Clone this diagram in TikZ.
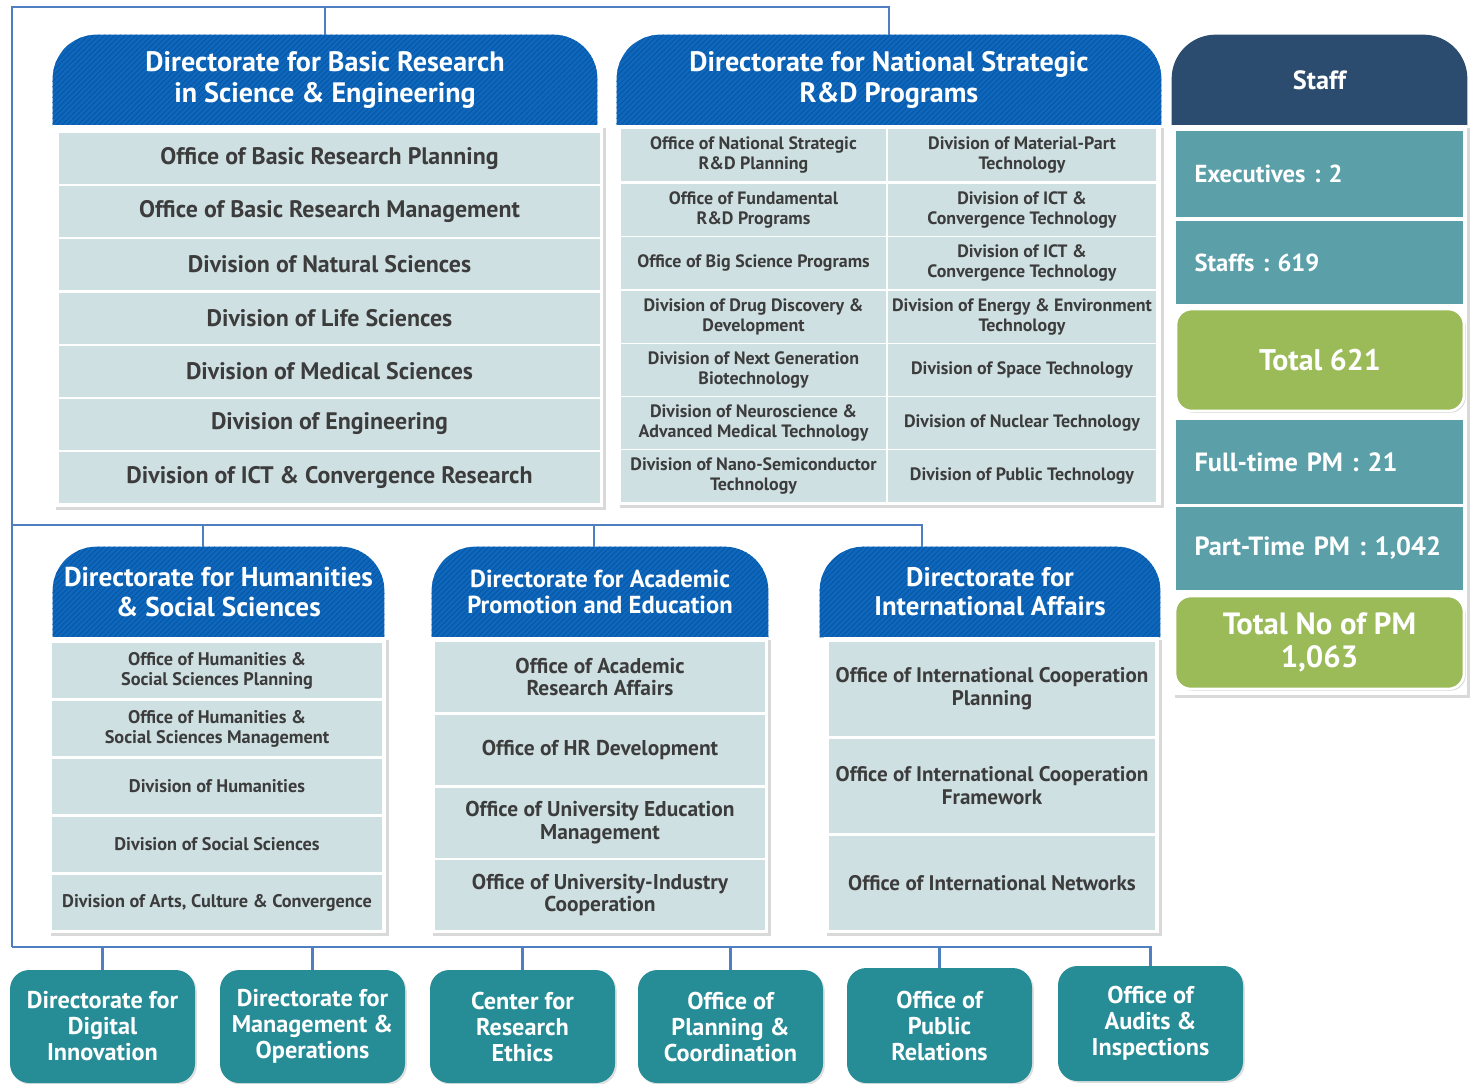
\documentclass[tikz,border=0pt]{standalone}
\usepackage{fontspec}
\setmainfont{PT Sans}
\usepackage{xcolor}
\usetikzlibrary{backgrounds,patterns,shadows}
\frenchspacing
\definecolor{busblue}{RGB}{79,127,192}
\definecolor{hdrblue}{RGB}{14,103,188}
\definecolor{hatchblue}{RGB}{6,84,158}
\definecolor{rowgray}{RGB}{207,224,226}
\definecolor{txtgray}{RGB}{60,60,60}
\definecolor{staffnavy}{RGB}{43,75,111}
\definecolor{staffteal}{RGB}{91,160,169}
\definecolor{staffgreen}{RGB}{155,187,89}
\definecolor{unitteal}{RGB}{38,140,150}
\tikzset{
Taille/.style 2 args={
 minimum width=#1*0.02cm,
 minimum height=#2*0.02cm
 },
Bus/.style={
 draw=busblue,
 line width=1.6pt
 },
Cadre/.style={
 fill=white,
 inner sep=0pt,
 drop shadow={shadow xshift=1.5pt, shadow yshift=-1.5pt, opacity=0.3}
 },
Titre/.style={
 inner sep=0pt,
 text=white,
 align=center,
 font=\bfseries\fontsize{16}{17.5}\selectfont
 },
FondBleu/.style={
 fill=hdrblue,
 postaction={pattern=north east lines, pattern color=hatchblue}
 },
Case/.style={
 fill=rowgray,
 inner sep=0pt,
 text=txtgray,
 align=center
 },
Effectif/.style={
 fill=staffteal,
 inner sep=0pt,
 text width=5cm,
 align=left,
 text=white,
 font=\bfseries\fontsize{14}{16}\selectfont
 },
Total/.style={
 fill=staffgreen,
 draw=white,
 line width=1.5pt,
 rounded corners=9pt,
 inner sep=0pt,
 align=center,
 text=white,
 drop shadow={shadow xshift=1pt, shadow yshift=-1pt, opacity=0.3},
 font=\bfseries\fontsize{17.5}{18.5}\selectfont
 },
Unite/.style={
 fill=unitteal,
 rounded corners=11pt,
 inner sep=0pt,
 align=center,
 text=white,
 drop shadow={shadow xshift=1pt, shadow yshift=-1pt, opacity=0.25},
 font=\bfseries\fontsize{13.8}{14.8}\selectfont
 }
}
\newcommand{\Onglet}[2]{\fill[#2] (#1.south west) [rounded corners=25pt] -- (#1.north west) -- (#1.north east) [sharp corners] -- (#1.south east) -- cycle;}

\begin{document}
\begin{tikzpicture}[x=0.02cm,y=-0.02cm]
\useasboundingbox (0,0) rectangle (1470,1083);

% Basic research
\node[Cadre, Taille={550}{382}] (cBR) at (328,316) {};
\node[Titre, Taille={544}{90}] (hBR) at (325,80) {Directorate for Basic Research\\in Science \& Engineering};
\begin{scope}[font=\bfseries\fontsize{13.6}{15}\selectfont]
\node[Case, Taille={541}{51}] (br1) at (329.5,158) {Office of Basic Research Planning};
\node[Case, Taille={541}{51}] (br2) at (329.5,211) {Office of Basic Research Management};
\node[Case, Taille={541}{51}] (br3) at (329.5,264) {Division of Natural Sciences};
\node[Case, Taille={541}{51}] (br4) at (329.5,318) {Division of Life Sciences};
\node[Case, Taille={541}{51}] (br5) at (329.5,371) {Division of Medical Sciences};
\node[Case, Taille={541}{51}] (br6) at (329.5,424) {Division of Engineering};
\node[Case, Taille={541}{51}] (br7) at (329.5,477) {Division of ICT \& Convergence Research};
\end{scope}

% National strategic
\node[Cadre, Taille={544}{380}] (cNS) at (889,315) {};
\node[Titre, Taille={544}{90}] (hNS) at (889,80) {Directorate for National Strategic\\R\&D Programs};
\begin{scope}[font=\bfseries\fontsize{10.2}{11}\selectfont]
\node[Case, Taille={265}{52}] (ns1) at (753.5,155) {Office of National Strategic\\R\&D Planning};
\node[Case, Taille={265}{52}] (ns2) at (753.5,210) {Office of Fundamental\\R\&D Programs};
\node[Case, Taille={265}{52}] (ns3) at (753.5,263) {Office of Big Science Programs};
\node[Case, Taille={265}{52}] (ns4) at (753.5,317) {Division of Drug Discovery \&\\Development};
\node[Case, Taille={265}{52}] (ns5) at (753.5,370) {Division of Next Generation\\Biotechnology};
\node[Case, Taille={265}{52}] (ns6) at (753.5,423) {Division of Neuroscience \&\\Advanced Medical Technology};
\node[Case, Taille={265}{52}] (ns7) at (753.5,476) {Division of Nano-Semiconductor\\Technology};
\node[Case, Taille={268}{52}] (ns8) at (1022,155) {Division of Material-Part\\Technology};
\node[Case, Taille={268}{52}] (ns9) at (1022,210) {Division of ICT \&\\Convergence Technology};
\node[Case, Taille={268}{52}] (ns10) at (1022,263) {Division of ICT \&\\Convergence Technology};
\node[Case, Taille={268}{52}] (ns11) at (1022,317) {Division of Energy \& Environment\\Technology};
\node[Case, Taille={268}{52}] (ns12) at (1022,370) {Division of Space Technology};
\node[Case, Taille={268}{52}] (ns13) at (1022,423) {Division of Nuclear Technology};
\node[Case, Taille={268}{52}] (ns14) at (1022,476) {Division of Public Technology};
\end{scope}

% Staff
\node[Cadre, Taille={295}{570}] (cST) at (1319.5,410) {};
\node[Titre, Taille={295}{90}, font=\bfseries\fontsize{15}{17}\selectfont] (hST) at (1319.5,80) {Staff};
\node[Effectif, Taille={287}{86}] (st1) at (1319.5,174) {Executives : 2};
\node[Effectif, Taille={287}{83}] (st2) at (1319.5,262.5) {Staffs : 619};
\node[Total, Taille={288}{102}, font=\bfseries\fontsize{17}{18.5}\selectfont] (st3) at (1320,360) {Total 621};
\node[Effectif, Taille={287}{84}, font=\bfseries\fontsize{15}{16}\selectfont] (st4) at (1319.5,462) {Full-time PM : 21};
\node[Effectif, Taille={287}{83}, font=\bfseries\fontsize{15}{16}\selectfont] (st5) at (1319.5,548.5) {Part-Time PM : 1,042};
\node[Total, Taille={289}{93}] (st6) at (1319.5,642.5) {Total No of PM\\1,063};

% Humanities
\node[Cadre, Taille={338}{296}] (cHS) at (217,785) {};
\node[Titre, Taille={331}{90}, font=\bfseries\fontsize{15.5}{17}\selectfont] (hHS) at (218.5,592) {Directorate for Humanities\\\& Social Sciences};
\begin{scope}[font=\bfseries\fontsize{10.4}{11.5}\selectfont]
\node[Case, Taille={330}{55}] (hs1) at (217,670.5) {Office of Humanities \&\\Social Sciences Planning};
\node[Case, Taille={330}{55}] (hs2) at (217,728.5) {Office of Humanities \&\\Social Sciences Management};
\node[Case, Taille={330}{55}] (hs3) at (217,786.5) {Division of Humanities};
\node[Case, Taille={330}{55}] (hs4) at (217,844.5) {Division of Social Sciences};
\node[Case, Taille={330}{55}] (hs5) at (217,902.5) {Division of Arts, Culture \& Convergence};
\end{scope}

% Academic
\node[Cadre, Taille={338}{296}] (cAP) at (599,785) {};
\node[Titre, Taille={336}{90}, font=\bfseries\fontsize{14}{15}\selectfont] (hAP) at (600,592) {Directorate for Academic\\Promotion and Education};
\begin{scope}[font=\bfseries\fontsize{12.2}{13}\selectfont]
\node[Case, Taille={330}{70}] (ap1) at (600,677) {Office of Academic\\Research Affairs};
\node[Case, Taille={330}{70}] (ap2) at (600,750) {Office of HR Development};
\node[Case, Taille={330}{70}] (ap3) at (600,822.5) {Office of University Education\\Management};
\node[Case, Taille={330}{70}] (ap4) at (600,895) {Office of University-Industry\\Cooperation};
\end{scope}

% International
\node[Cadre, Taille={335}{296}] (cIA) at (991.5,785) {};
\node[Titre, Taille={340}{90}, font=\bfseries\fontsize{15.3}{16.5}\selectfont] (hIA) at (990,592) {Directorate for\\International Affairs};
\begin{scope}[font=\bfseries\fontsize{12}{13}\selectfont]
\node[Case, Taille={326}{94}] (ia1) at (992,689) {Office of International Cooperation\\Planning};
\node[Case, Taille={326}{94}] (ia2) at (992,786) {Office of International Cooperation\\Framework};
\node[Case, Taille={326}{94}] (ia3) at (992,883) {Office of International Networks};
\end{scope}

% units
\node[Unite, Taille={185}{113}] (u1) at (102.5,1026.5) {Directorate for\\Digital\\Innovation};
\node[Unite, Taille={185}{113}] (u2) at (312.5,1026.5) {Directorate for\\Management \&\\Operations};
\node[Unite, Taille={185}{113}] (u3) at (522.5,1026.5) {Center for\\Research\\Ethics};
\node[Unite, Taille={185}{113}] (u4) at (730.5,1026.5) {Office of\\Planning \&\\Coordination};
\node[Unite, Taille={185}{115}] (u5) at (939.5,1025.5) {Office of\\Public\\Relations};
\node[Unite, Taille={185}{115}] (u6) at (1150.5,1023.5) {Office of\\Audits \&\\Inspections};

\begin{scope}[on background layer]
\Onglet{hBR}{FondBleu}
\Onglet{hNS}{FondBleu}
\Onglet{hHS}{FondBleu}
\Onglet{hAP}{FondBleu}
\Onglet{hIA}{FondBleu}
\Onglet{hST}{staffnavy}
\end{scope}

% lines
\coordinate (coin) at (12,7);
\coordinate (bas) at (12,947);
\coordinate (milieu) at (12,525);
\coordinate (pHS) at (203,525);
\coordinate (pAP) at (594,525);
\coordinate (pIA) at (922,525);
\draw[Bus] (hBR.north) |- (coin) -- (bas);
\draw[Bus] (hNS.north) |- (coin);
\draw[Bus] (milieu) -- (pIA) -- (pIA |- hIA.north);
\draw[Bus] (pHS) -- (pHS |- hHS.north);
\draw[Bus] (pAP) -- (pAP |- hAP.north);
\draw[Bus] (bas) -| (u6.north);
\foreach \u in {u1,u2,u3,u4,u5}
 \draw[Bus] (\u.north) -- (\u.north |- bas);
\end{tikzpicture}
\end{document}
